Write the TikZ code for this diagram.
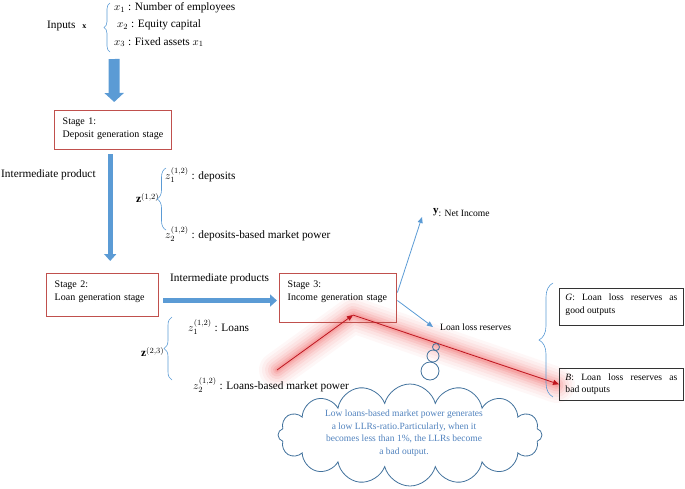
\documentclass[tikz,border=0pt]{standalone}
\usepackage{fontspec}
\setmainfont{Liberation Serif}
\usetikzlibrary{positioning,arrows.meta,calc,shapes.symbols,decorations.pathreplacing}
\definecolor{stagered}{RGB}{192,80,77}
\definecolor{flowblue}{RGB}{91,155,213}
\definecolor{flowedge}{RGB}{65,113,156}
\definecolor{notetext}{RGB}{79,129,189}
\definecolor{glowred}{RGB}{235,60,60}
\definecolor{pathred}{RGB}{190,20,30}

\begin{document}
\begin{tikzpicture}[x=1pt,y=-1pt,
        lbl/.style={inner sep=0, anchor=west, font=\fontsize{11.3}{13}\selectfont},
        smalllbl/.style={inner sep=0, anchor=west, font=\fontsize{9.6}{12}\selectfont},
        stagebox/.style={draw=stagered, line width=1.4pt, align=left, anchor=north west, inner xsep=8pt, inner ysep=7pt, font=\fontsize{10}{13}\selectfont},
        outbox/.style={draw=black!80, line width=0.9pt, text width=112pt, align=justify, anchor=north west, inner xsep=6pt, inner ysep=5.5pt},
        fatflow/.style={draw=flowblue, line width=11pt, -{Triangle[width=19pt,length=9pt]}},
        slimflow/.style={draw=flowblue, line width=5pt, -{Triangle[width=12pt,length=7pt]}},
        thinflow/.style={draw=flowblue, line width=0.8pt, -{Triangle[width=5pt,length=6pt]}},
        redlink/.style={draw=pathred, line width=0.8pt, -{Triangle[width=5pt,length=6pt]}},
        bracket/.style={draw=flowblue, line width=0.6pt, decorate, decoration={brace, amplitude=#1}},
        puff/.style={circle, draw=flowedge, line width=0.8pt, inner sep=0}]
        \useasboundingbox (0,0) rectangle (685,488);

        % glow behind the red path
        \coordinate (glowstart) at (277,370);
        \coordinate (glowbend) at (353,315);
        \coordinate (glowend) at (557,385);
        \foreach \w/\o in {36/0.04,30/0.05,24/0.06,18/0.08,13/0.1,8/0.12,4/0.15}
            \draw[glowred, opacity=\o, line width=\w pt, line cap=round, line join=round] (glowstart) -- (glowbend) -- (glowend);

        % inputs
        \node[lbl] (inputs) at (47,26) {Inputs\hspace{7pt}{\fontsize{8}{8}\selectfont$\mathbf{x}$}};
        \node[lbl] (xone) at (114,8) {$x_1$ : Number of employees};
        \node[lbl] (xtwo) at (117,25) {$x_2$ : Equity capital};
        \node[lbl] (xthree) at (114,42) {$x_3$ : Fixed assets $x_1$};
        \draw[bracket=6pt] (110,52) -- (110,3);

        % stages
        \node[stagebox, text width=101pt, text depth=18pt] (stageone) at (54,110) {Stage 1:\\Deposit generation stage};
        \node[stagebox, text width=96pt, text depth=22pt] (stagetwo) at (46,273) {Stage 2:\\Loan generation stage};
        \node[stagebox, text width=101pt, text depth=28pt] (stagethree) at (279,273) {Stage 3:\\Income generation stage};

        \coordinate (inflow) at (114,59);
        \draw[fatflow] (inflow) -- ([xshift=1pt,yshift=8pt]stageone.north);
        \draw[slimflow] ($(stageone.south)+(-3,4)$) -- ($(stageone.south |- stagetwo.north)+(-3,-12)$);
        \draw[slimflow] ($(stagetwo.east)+(4,5.5)$) -- ($(stagethree.west |- stagetwo.east)+(-2,5.5)$);

        % intermediate products
        \node[lbl] (midone) at (1,175) {Intermediate product};
        \node[lbl] (zvecone) at (136,198) {$\mathbf{z}^{(1,2)}$};
        \node[lbl] (deposits) at (165,175) {$z_1^{(1,2)}$ : deposits};
        \node[lbl] (deppower) at (165,234) {$z_2^{(1,2)}$ : deposits-based market power};
        \draw[bracket=9pt] (166,230) -- (166,168);

        \node[lbl] (midtwo) at (170,279) {Intermediate products};
        \node[lbl] (zvectwo) at (141,352) {$\mathbf{z}^{(2,3)}$};
        \node[lbl] (loans) at (188,327) {$z_1^{(1,2)}$ : Loans};
        \node[lbl] (loanpower) at (193,385) {$z_2^{(1,2)}$ : Loans-based market power};
        \draw[bracket=8pt] (172,380) -- (172,317);

        % outputs
        \node[smalllbl] (netinc) at (433,213) {\raisebox{3pt}{\fontsize{11}{11}\selectfont$\mathbf{y}$}: Net Income};
        \node[smalllbl] (llr) at (440,327) {Loan loss reserves};
        \draw[thinflow] ([yshift=5.5pt]stagethree.east) -- ($(netinc.west)+(-11,4)$);
        \draw[thinflow] ([yshift=-2.5pt]stagethree.east) -- ($(llr.west)+(-7,0)$);

        \node[outbox, text depth=19pt, font=\fontsize{9.6}{13}\selectfont] (good) at (559,288) {\textit{G}: Loan loss reserves as\linebreak good outputs};
        \node[outbox, text depth=14pt, font=\fontsize{9.6}{12}\selectfont] (bad) at (559,368) {\textit{B}: Loan loss reserves as\linebreak bad outputs};
        \draw[bracket=14pt] (553,397) -- (553,283);

        % red path
        \draw[redlink] (glowstart) -- (glowbend);
        \draw[redlink] (glowbend) -- (bad.west);

        % thought cloud
        \node[puff, minimum size=7pt] (puffa) at (436,347) {};
        \node[puff, minimum size=12pt] (puffb) at (433,356) {};
        \node[puff, minimum size=18pt] (puffc) at (430,371) {};
        \node[cloud, cloud puffs=16, cloud ignores aspect, draw=flowedge, line width=0.8pt, minimum width=264pt, minimum height=102pt, inner sep=0] (bubble) at (410,435) {};
        \node[align=center, text=notetext, inner sep=0, font=\fontsize{9.5}{12.5}\selectfont] (note) at (404,433) {Low loans-based market power generates\\a low LLRs-ratio.Particularly, when it\\becomes less than 1\%, the LLRs become\\a bad output.};
\end{tikzpicture}
\end{document}
